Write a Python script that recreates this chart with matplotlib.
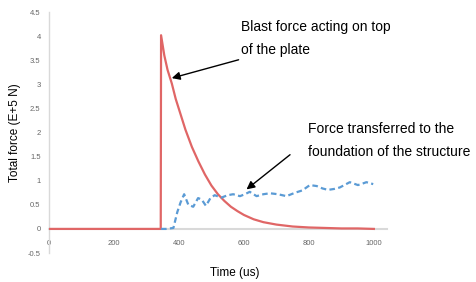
import matplotlib.pyplot as plt

plt.rcParams['font.family'] = ['Liberation Sans', 'DejaVu Sans']

# blast force on top of the plate (E+5 N)
blast_t = [0, 344, 345, 355, 365, 378, 390, 405, 420, 440, 460, 480, 500, 520, 540,
           560, 580, 600, 630, 660, 700, 750, 800, 850, 900, 950, 1000]
blast_f = [0, 0, 4.02, 3.60, 3.30, 3.02, 2.70, 2.38, 2.06, 1.70, 1.40, 1.13, 0.90, 0.72, 0.58,
           0.46, 0.37, 0.29, 0.20, 0.14, 0.09, 0.05, 0.03, 0.02, 0.01, 0.01, 0.0]

# force transferred to the foundation (E+5 N)
found_t = [345, 360, 383, 395, 405, 416, 429, 444, 459, 470, 483, 497, 510, 531, 550,
           567, 588, 603, 618, 639, 660, 680, 705, 731, 757, 780, 803, 824, 842, 859,
           878, 895, 912, 926, 951, 965, 977, 998]
found_f = [0, 0, 0.02, 0.35, 0.55, 0.72, 0.50, 0.46, 0.64, 0.61, 0.48, 0.64, 0.70, 0.65, 0.70,
           0.72, 0.68, 0.72, 0.77, 0.68, 0.72, 0.74, 0.72, 0.68, 0.75, 0.80, 0.91, 0.89, 0.84, 0.81,
           0.83, 0.86, 0.92, 0.97, 0.91, 0.94, 0.97, 0.93]

xticks = [0, 200, 400, 600, 800, 1000]
yticks = [-0.5, 0, 0.5, 1, 1.5, 2, 2.5, 3, 3.5, 4, 4.5]

fig = plt.figure(figsize=(4.77, 2.82), dpi=100)
ax = fig.add_axes([0.1027, 0.1028, 0.7083, 0.8543])

ax.plot(blast_t, blast_f, color='#e06666', lw=1.6, zorder=3)
ax.plot(found_t, found_f, color='#5b9bd5', lw=1.6, ls=(0, (2.5, 1.5)), zorder=4)

ax.set_xlim(0, 1040)
ax.set_ylim(-0.5, 4.5)
ax.set_xticks(xticks)
ax.set_xticklabels([str(v) for v in xticks])
ax.set_yticks(yticks)
ax.set_yticklabels(['%g' % v for v in yticks])

for s in ['top', 'right']:
    ax.spines[s].set_visible(False)
ax.spines['bottom'].set_position(('data', 0))
ax.spines['bottom'].set_color('#d9d9d9')
ax.spines['bottom'].set_linewidth(1.5)
ax.spines['bottom'].set_zorder(1)
ax.spines['left'].set_color('#d9d9d9')
ax.spines['left'].set_linewidth(1.0)
ax.tick_params(length=0, labelsize=5.5, colors='#666666', pad=8)
ax.tick_params(axis='y', pad=6)

ax.set_xlabel('Time (us)', fontsize=8.5)
ax.xaxis.set_label_coords(0.55, -0.06)
ax.set_ylabel('Total force (E+5 N)', fontsize=8.5)
ax.yaxis.set_label_coords(-0.082, 0.50)

ax.annotate('Blast force acting on top\nof the plate', xy=(378, 3.13), xytext=(591, 3.95),
            fontsize=10, va='center', ha='left', linespacing=1.8, annotation_clip=False,
            arrowprops=dict(arrowstyle='-|>', color='black', lw=1.0, shrinkA=0, shrinkB=0,
                            mutation_scale=12),
            )
ax.annotate('Force transferred to the\nfoundation of the structure', xy=(608, 0.82),
            xytext=(797, 1.84), fontsize=10, va='center', ha='left', linespacing=1.8,
            annotation_clip=False, arrowprops=None)
ax.annotate('', xy=(608, 0.82), xytext=(742, 1.54), annotation_clip=False,
            arrowprops=dict(arrowstyle='-|>', color='black', lw=1.0, shrinkA=0, shrinkB=0,
                            mutation_scale=12))

fig.savefig('out.png', dpi=100)
